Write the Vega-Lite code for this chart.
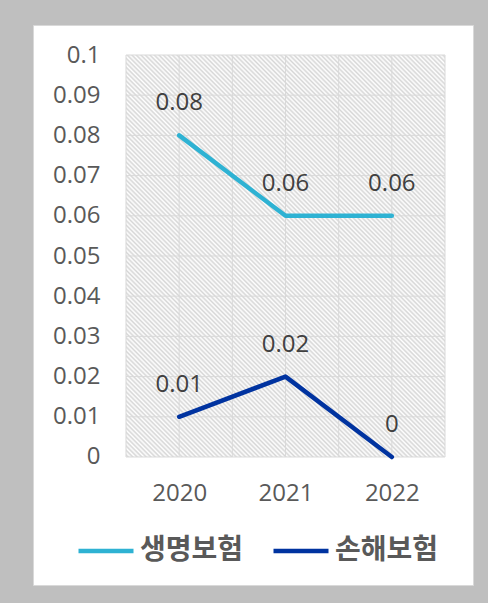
{
  "$schema": "https://vega.github.io/schema/vega-lite/v6.json",
  "width": 440,
  "height": 560,
  "autosize": "none",
  "padding": {"left": 33, "top": 25, "right": 15, "bottom": 18},
  "background": "#bfbfbf",
  "config": {
    "view": {"fill": "#ffffff", "stroke": "#d9d9d9", "strokeWidth": 1},
    "font": "Open Sans"
  },
  "datasets": {
    "series": [
      {"year": 2020, "type": "생명보험", "value": 0.08},
      {"year": 2021, "type": "생명보험", "value": 0.06},
      {"year": 2022, "type": "생명보험", "value": 0.06},
      {"year": 2020, "type": "손해보험", "value": 0.01},
      {"year": 2021, "type": "손해보험", "value": 0.02},
      {"year": 2022, "type": "손해보험", "value": 0}
    ],
    "plotarea": [{"x1": 2019.5, "x2": 2022.5, "y1": 0, "y2": 0.1}],
    "hgrid": [{"v": 0}, {"v": 0.01}, {"v": 0.02}, {"v": 0.03}, {"v": 0.04}, {"v": 0.05}, {"v": 0.06}, {"v": 0.07}, {"v": 0.08}, {"v": 0.09}, {"v": 0.1}],
    "vgrid": [{"v": 2019.5}, {"v": 2020}, {"v": 2020.5}, {"v": 2021}, {"v": 2021.5}, {"v": 2022}, {"v": 2022.5}]
  },
  "layer": [
    {
      "data": {"name": "plotarea"},
      "mark": {
        "type": "rect",
        "fill": {
          "gradient": "linear", "x1": 0, "y1": 1, "x2": 0.8733, "y2": -0.1005,
          "stops": [
{"offset":0,"color":"#fff"},{"offset":0.003125,"color":"#d6d6d6"},{"offset":0.00625,"color":"#fff"},{"offset":0.009375,"color":"#d6d6d6"},{"offset":0.0125,"color":"#fff"},{"offset":0.015625,"color":"#d6d6d6"},{"offset":0.01875,"color":"#fff"},{"offset":0.021875,"color":"#d6d6d6"},{"offset":0.025,"color":"#fff"},{"offset":0.028125,"color":"#d6d6d6"},{"offset":0.03125,"color":"#fff"},{"offset":0.034375,"color":"#d6d6d6"},{"offset":0.0375,"color":"#fff"},{"offset":0.040625,"color":"#d6d6d6"},{"offset":0.04375,"color":"#fff"},{"offset":0.046875,"color":"#d6d6d6"},
{"offset":0.05,"color":"#fff"},{"offset":0.053125,"color":"#d6d6d6"},{"offset":0.05625,"color":"#fff"},{"offset":0.059375,"color":"#d6d6d6"},{"offset":0.0625,"color":"#fff"},{"offset":0.065625,"color":"#d6d6d6"},{"offset":0.06875,"color":"#fff"},{"offset":0.071875,"color":"#d6d6d6"},{"offset":0.075,"color":"#fff"},{"offset":0.078125,"color":"#d6d6d6"},{"offset":0.08125,"color":"#fff"},{"offset":0.084375,"color":"#d6d6d6"},{"offset":0.0875,"color":"#fff"},{"offset":0.090625,"color":"#d6d6d6"},{"offset":0.09375,"color":"#fff"},{"offset":0.096875,"color":"#d6d6d6"},
{"offset":0.1,"color":"#fff"},{"offset":0.103125,"color":"#d6d6d6"},{"offset":0.10625,"color":"#fff"},{"offset":0.109375,"color":"#d6d6d6"},{"offset":0.1125,"color":"#fff"},{"offset":0.115625,"color":"#d6d6d6"},{"offset":0.11875,"color":"#fff"},{"offset":0.121875,"color":"#d6d6d6"},{"offset":0.125,"color":"#fff"},{"offset":0.128125,"color":"#d6d6d6"},{"offset":0.13125,"color":"#fff"},{"offset":0.134375,"color":"#d6d6d6"},{"offset":0.1375,"color":"#fff"},{"offset":0.140625,"color":"#d6d6d6"},{"offset":0.14375,"color":"#fff"},{"offset":0.146875,"color":"#d6d6d6"},
{"offset":0.15,"color":"#fff"},{"offset":0.153125,"color":"#d6d6d6"},{"offset":0.15625,"color":"#fff"},{"offset":0.159375,"color":"#d6d6d6"},{"offset":0.1625,"color":"#fff"},{"offset":0.165625,"color":"#d6d6d6"},{"offset":0.16875,"color":"#fff"},{"offset":0.171875,"color":"#d6d6d6"},{"offset":0.175,"color":"#fff"},{"offset":0.178125,"color":"#d6d6d6"},{"offset":0.18125,"color":"#fff"},{"offset":0.184375,"color":"#d6d6d6"},{"offset":0.1875,"color":"#fff"},{"offset":0.190625,"color":"#d6d6d6"},{"offset":0.19375,"color":"#fff"},{"offset":0.196875,"color":"#d6d6d6"},
{"offset":0.2,"color":"#fff"},{"offset":0.203125,"color":"#d6d6d6"},{"offset":0.20625,"color":"#fff"},{"offset":0.209375,"color":"#d6d6d6"},{"offset":0.2125,"color":"#fff"},{"offset":0.215625,"color":"#d6d6d6"},{"offset":0.21875,"color":"#fff"},{"offset":0.221875,"color":"#d6d6d6"},{"offset":0.225,"color":"#fff"},{"offset":0.228125,"color":"#d6d6d6"},{"offset":0.23125,"color":"#fff"},{"offset":0.234375,"color":"#d6d6d6"},{"offset":0.2375,"color":"#fff"},{"offset":0.240625,"color":"#d6d6d6"},{"offset":0.24375,"color":"#fff"},{"offset":0.246875,"color":"#d6d6d6"},
{"offset":0.25,"color":"#fff"},{"offset":0.253125,"color":"#d6d6d6"},{"offset":0.25625,"color":"#fff"},{"offset":0.259375,"color":"#d6d6d6"},{"offset":0.2625,"color":"#fff"},{"offset":0.265625,"color":"#d6d6d6"},{"offset":0.26875,"color":"#fff"},{"offset":0.271875,"color":"#d6d6d6"},{"offset":0.275,"color":"#fff"},{"offset":0.278125,"color":"#d6d6d6"},{"offset":0.28125,"color":"#fff"},{"offset":0.284375,"color":"#d6d6d6"},{"offset":0.2875,"color":"#fff"},{"offset":0.290625,"color":"#d6d6d6"},{"offset":0.29375,"color":"#fff"},{"offset":0.296875,"color":"#d6d6d6"},
{"offset":0.3,"color":"#fff"},{"offset":0.303125,"color":"#d6d6d6"},{"offset":0.30625,"color":"#fff"},{"offset":0.309375,"color":"#d6d6d6"},{"offset":0.3125,"color":"#fff"},{"offset":0.315625,"color":"#d6d6d6"},{"offset":0.31875,"color":"#fff"},{"offset":0.321875,"color":"#d6d6d6"},{"offset":0.325,"color":"#fff"},{"offset":0.328125,"color":"#d6d6d6"},{"offset":0.33125,"color":"#fff"},{"offset":0.334375,"color":"#d6d6d6"},{"offset":0.3375,"color":"#fff"},{"offset":0.340625,"color":"#d6d6d6"},{"offset":0.34375,"color":"#fff"},{"offset":0.346875,"color":"#d6d6d6"},
{"offset":0.35,"color":"#fff"},{"offset":0.353125,"color":"#d6d6d6"},{"offset":0.35625,"color":"#fff"},{"offset":0.359375,"color":"#d6d6d6"},{"offset":0.3625,"color":"#fff"},{"offset":0.365625,"color":"#d6d6d6"},{"offset":0.36875,"color":"#fff"},{"offset":0.371875,"color":"#d6d6d6"},{"offset":0.375,"color":"#fff"},{"offset":0.378125,"color":"#d6d6d6"},{"offset":0.38125,"color":"#fff"},{"offset":0.384375,"color":"#d6d6d6"},{"offset":0.3875,"color":"#fff"},{"offset":0.390625,"color":"#d6d6d6"},{"offset":0.39375,"color":"#fff"},{"offset":0.396875,"color":"#d6d6d6"},
{"offset":0.4,"color":"#fff"},{"offset":0.403125,"color":"#d6d6d6"},{"offset":0.40625,"color":"#fff"},{"offset":0.409375,"color":"#d6d6d6"},{"offset":0.4125,"color":"#fff"},{"offset":0.415625,"color":"#d6d6d6"},{"offset":0.41875,"color":"#fff"},{"offset":0.421875,"color":"#d6d6d6"},{"offset":0.425,"color":"#fff"},{"offset":0.428125,"color":"#d6d6d6"},{"offset":0.43125,"color":"#fff"},{"offset":0.434375,"color":"#d6d6d6"},{"offset":0.4375,"color":"#fff"},{"offset":0.440625,"color":"#d6d6d6"},{"offset":0.44375,"color":"#fff"},{"offset":0.446875,"color":"#d6d6d6"},
{"offset":0.45,"color":"#fff"},{"offset":0.453125,"color":"#d6d6d6"},{"offset":0.45625,"color":"#fff"},{"offset":0.459375,"color":"#d6d6d6"},{"offset":0.4625,"color":"#fff"},{"offset":0.465625,"color":"#d6d6d6"},{"offset":0.46875,"color":"#fff"},{"offset":0.471875,"color":"#d6d6d6"},{"offset":0.475,"color":"#fff"},{"offset":0.478125,"color":"#d6d6d6"},{"offset":0.48125,"color":"#fff"},{"offset":0.484375,"color":"#d6d6d6"},{"offset":0.4875,"color":"#fff"},{"offset":0.490625,"color":"#d6d6d6"},{"offset":0.49375,"color":"#fff"},{"offset":0.496875,"color":"#d6d6d6"},
{"offset":0.5,"color":"#fff"},{"offset":0.503125,"color":"#d6d6d6"},{"offset":0.50625,"color":"#fff"},{"offset":0.509375,"color":"#d6d6d6"},{"offset":0.5125,"color":"#fff"},{"offset":0.515625,"color":"#d6d6d6"},{"offset":0.51875,"color":"#fff"},{"offset":0.521875,"color":"#d6d6d6"},{"offset":0.525,"color":"#fff"},{"offset":0.528125,"color":"#d6d6d6"},{"offset":0.53125,"color":"#fff"},{"offset":0.534375,"color":"#d6d6d6"},{"offset":0.5375,"color":"#fff"},{"offset":0.540625,"color":"#d6d6d6"},{"offset":0.54375,"color":"#fff"},{"offset":0.546875,"color":"#d6d6d6"},
{"offset":0.55,"color":"#fff"},{"offset":0.553125,"color":"#d6d6d6"},{"offset":0.55625,"color":"#fff"},{"offset":0.559375,"color":"#d6d6d6"},{"offset":0.5625,"color":"#fff"},{"offset":0.565625,"color":"#d6d6d6"},{"offset":0.56875,"color":"#fff"},{"offset":0.571875,"color":"#d6d6d6"},{"offset":0.575,"color":"#fff"},{"offset":0.578125,"color":"#d6d6d6"},{"offset":0.58125,"color":"#fff"},{"offset":0.584375,"color":"#d6d6d6"},{"offset":0.5875,"color":"#fff"},{"offset":0.590625,"color":"#d6d6d6"},{"offset":0.59375,"color":"#fff"},{"offset":0.596875,"color":"#d6d6d6"},
{"offset":0.6,"color":"#fff"},{"offset":0.603125,"color":"#d6d6d6"},{"offset":0.60625,"color":"#fff"},{"offset":0.609375,"color":"#d6d6d6"},{"offset":0.6125,"color":"#fff"},{"offset":0.615625,"color":"#d6d6d6"},{"offset":0.61875,"color":"#fff"},{"offset":0.621875,"color":"#d6d6d6"},{"offset":0.625,"color":"#fff"},{"offset":0.628125,"color":"#d6d6d6"},{"offset":0.63125,"color":"#fff"},{"offset":0.634375,"color":"#d6d6d6"},{"offset":0.6375,"color":"#fff"},{"offset":0.640625,"color":"#d6d6d6"},{"offset":0.64375,"color":"#fff"},{"offset":0.646875,"color":"#d6d6d6"},
{"offset":0.65,"color":"#fff"},{"offset":0.653125,"color":"#d6d6d6"},{"offset":0.65625,"color":"#fff"},{"offset":0.659375,"color":"#d6d6d6"},{"offset":0.6625,"color":"#fff"},{"offset":0.665625,"color":"#d6d6d6"},{"offset":0.66875,"color":"#fff"},{"offset":0.671875,"color":"#d6d6d6"},{"offset":0.675,"color":"#fff"},{"offset":0.678125,"color":"#d6d6d6"},{"offset":0.68125,"color":"#fff"},{"offset":0.684375,"color":"#d6d6d6"},{"offset":0.6875,"color":"#fff"},{"offset":0.690625,"color":"#d6d6d6"},{"offset":0.69375,"color":"#fff"},{"offset":0.696875,"color":"#d6d6d6"},
{"offset":0.7,"color":"#fff"},{"offset":0.703125,"color":"#d6d6d6"},{"offset":0.70625,"color":"#fff"},{"offset":0.709375,"color":"#d6d6d6"},{"offset":0.7125,"color":"#fff"},{"offset":0.715625,"color":"#d6d6d6"},{"offset":0.71875,"color":"#fff"},{"offset":0.721875,"color":"#d6d6d6"},{"offset":0.725,"color":"#fff"},{"offset":0.728125,"color":"#d6d6d6"},{"offset":0.73125,"color":"#fff"},{"offset":0.734375,"color":"#d6d6d6"},{"offset":0.7375,"color":"#fff"},{"offset":0.740625,"color":"#d6d6d6"},{"offset":0.74375,"color":"#fff"},{"offset":0.746875,"color":"#d6d6d6"},
{"offset":0.75,"color":"#fff"},{"offset":0.753125,"color":"#d6d6d6"},{"offset":0.75625,"color":"#fff"},{"offset":0.759375,"color":"#d6d6d6"},{"offset":0.7625,"color":"#fff"},{"offset":0.765625,"color":"#d6d6d6"},{"offset":0.76875,"color":"#fff"},{"offset":0.771875,"color":"#d6d6d6"},{"offset":0.775,"color":"#fff"},{"offset":0.778125,"color":"#d6d6d6"},{"offset":0.78125,"color":"#fff"},{"offset":0.784375,"color":"#d6d6d6"},{"offset":0.7875,"color":"#fff"},{"offset":0.790625,"color":"#d6d6d6"},{"offset":0.79375,"color":"#fff"},{"offset":0.796875,"color":"#d6d6d6"},
{"offset":0.8,"color":"#fff"},{"offset":0.803125,"color":"#d6d6d6"},{"offset":0.80625,"color":"#fff"},{"offset":0.809375,"color":"#d6d6d6"},{"offset":0.8125,"color":"#fff"},{"offset":0.815625,"color":"#d6d6d6"},{"offset":0.81875,"color":"#fff"},{"offset":0.821875,"color":"#d6d6d6"},{"offset":0.825,"color":"#fff"},{"offset":0.828125,"color":"#d6d6d6"},{"offset":0.83125,"color":"#fff"},{"offset":0.834375,"color":"#d6d6d6"},{"offset":0.8375,"color":"#fff"},{"offset":0.840625,"color":"#d6d6d6"},{"offset":0.84375,"color":"#fff"},{"offset":0.846875,"color":"#d6d6d6"},
{"offset":0.85,"color":"#fff"},{"offset":0.853125,"color":"#d6d6d6"},{"offset":0.85625,"color":"#fff"},{"offset":0.859375,"color":"#d6d6d6"},{"offset":0.8625,"color":"#fff"},{"offset":0.865625,"color":"#d6d6d6"},{"offset":0.86875,"color":"#fff"},{"offset":0.871875,"color":"#d6d6d6"},{"offset":0.875,"color":"#fff"},{"offset":0.878125,"color":"#d6d6d6"},{"offset":0.88125,"color":"#fff"},{"offset":0.884375,"color":"#d6d6d6"},{"offset":0.8875,"color":"#fff"},{"offset":0.890625,"color":"#d6d6d6"},{"offset":0.89375,"color":"#fff"},{"offset":0.896875,"color":"#d6d6d6"},
{"offset":0.9,"color":"#fff"},{"offset":0.903125,"color":"#d6d6d6"},{"offset":0.90625,"color":"#fff"},{"offset":0.909375,"color":"#d6d6d6"},{"offset":0.9125,"color":"#fff"},{"offset":0.915625,"color":"#d6d6d6"},{"offset":0.91875,"color":"#fff"},{"offset":0.921875,"color":"#d6d6d6"},{"offset":0.925,"color":"#fff"},{"offset":0.928125,"color":"#d6d6d6"},{"offset":0.93125,"color":"#fff"},{"offset":0.934375,"color":"#d6d6d6"},{"offset":0.9375,"color":"#fff"},{"offset":0.940625,"color":"#d6d6d6"},{"offset":0.94375,"color":"#fff"},{"offset":0.946875,"color":"#d6d6d6"},
{"offset":0.95,"color":"#fff"},{"offset":0.953125,"color":"#d6d6d6"},{"offset":0.95625,"color":"#fff"},{"offset":0.959375,"color":"#d6d6d6"},{"offset":0.9625,"color":"#fff"},{"offset":0.965625,"color":"#d6d6d6"},{"offset":0.96875,"color":"#fff"},{"offset":0.971875,"color":"#d6d6d6"},{"offset":0.975,"color":"#fff"},{"offset":0.978125,"color":"#d6d6d6"},{"offset":0.98125,"color":"#fff"},{"offset":0.984375,"color":"#d6d6d6"},{"offset":0.9875,"color":"#fff"},{"offset":0.990625,"color":"#d6d6d6"},{"offset":0.99375,"color":"#fff"},{"offset":0.996875,"color":"#d6d6d6"},
{"offset":1,"color":"#fff"}
          ]
        }
      },
      "encoding": {
        "x": {
          "field": "x1", "type": "quantitative",
          "scale": {"domain": [2018.6254, 2022.7633], "nice": false, "zero": false},
          "axis": {
            "orient": "bottom", "offset": -128, "values": [2020, 2021, 2022], "format": "d",
            "grid": false, "ticks": false, "domain": false, "title": null,
            "labelFont": "Open Sans", "labelFontSize": 24, "labelColor": "#595959",
            "labelPadding": 24, "labelFlush": false
          }
        },
        "x2": {"field": "x2"},
        "y": {
          "field": "y1", "type": "quantitative",
          "scale": {"domain": [-0.031841, 0.107463], "nice": false, "zero": false},
          "axis": {
            "orient": "left", "offset": -93,
            "values": [0, 0.01, 0.02, 0.03, 0.04, 0.05, 0.06, 0.07, 0.08, 0.09, 0.1],
            "format": "~g", "grid": false, "ticks": false, "domain": false, "title": null,
            "labelFont": "Open Sans", "labelFontSize": 24, "labelColor": "#595959",
            "labelPadding": 26
          }
        },
        "y2": {"field": "y2"}
      }
    },
    {
      "data": {"name": "hgrid"},
      "mark": {"type": "rule", "color": "#d9d9d9", "strokeWidth": 1},
      "encoding": {
        "y": {
          "field": "v", "type": "quantitative",
          "scale": {"domain": [-0.031841, 0.107463], "nice": false, "zero": false},
          "axis": {
            "orient": "left", "offset": -93,
            "values": [0, 0.01, 0.02, 0.03, 0.04, 0.05, 0.06, 0.07, 0.08, 0.09, 0.1],
            "format": "~g", "grid": false, "ticks": false, "domain": false, "title": null,
            "labelFont": "Open Sans", "labelFontSize": 24, "labelColor": "#595959",
            "labelPadding": 26
          }
        },
        "x": {
          "datum": 2019.5, "type": "quantitative",
          "scale": {"domain": [2018.6254, 2022.7633], "nice": false, "zero": false},
          "axis": {
            "orient": "bottom", "offset": -128, "values": [2020, 2021, 2022], "format": "d",
            "grid": false, "ticks": false, "domain": false, "title": null,
            "labelFont": "Open Sans", "labelFontSize": 24, "labelColor": "#595959",
            "labelPadding": 24, "labelFlush": false
          }
        },
        "x2": {"datum": 2022.5}
      }
    },
    {
      "data": {"name": "vgrid"},
      "mark": {"type": "rule", "color": "#d9d9d9", "strokeWidth": 1},
      "encoding": {
        "x": {
          "field": "v", "type": "quantitative",
          "scale": {"domain": [2018.6254, 2022.7633], "nice": false, "zero": false},
          "axis": {
            "orient": "bottom", "offset": -128, "values": [2020, 2021, 2022], "format": "d",
            "grid": false, "ticks": false, "domain": false, "title": null,
            "labelFont": "Open Sans", "labelFontSize": 24, "labelColor": "#595959",
            "labelPadding": 24, "labelFlush": false
          }
        },
        "y": {
          "datum": 0, "type": "quantitative",
          "scale": {"domain": [-0.031841, 0.107463], "nice": false, "zero": false},
          "axis": {
            "orient": "left", "offset": -93,
            "values": [0, 0.01, 0.02, 0.03, 0.04, 0.05, 0.06, 0.07, 0.08, 0.09, 0.1],
            "format": "~g", "grid": false, "ticks": false, "domain": false, "title": null,
            "labelFont": "Open Sans", "labelFontSize": 24, "labelColor": "#595959",
            "labelPadding": 26
          }
        },
        "y2": {"datum": 0.1}
      }
    },
    {
      "data": {"name": "series"},
      "mark": {"type": "line", "strokeWidth": 4.5, "strokeCap": "round", "strokeJoin": "round"},
      "encoding": {
        "x": {
          "field": "year", "type": "quantitative",
          "scale": {"domain": [2018.6254, 2022.7633], "nice": false, "zero": false},
          "axis": {
            "orient": "bottom", "offset": -128, "values": [2020, 2021, 2022], "format": "d",
            "grid": false, "ticks": false, "domain": false, "title": null,
            "labelFont": "Open Sans", "labelFontSize": 24, "labelColor": "#595959",
            "labelPadding": 24, "labelFlush": false
          }
        },
        "y": {
          "field": "value", "type": "quantitative",
          "scale": {"domain": [-0.031841, 0.107463], "nice": false, "zero": false},
          "axis": {
            "orient": "left", "offset": -93,
            "values": [0, 0.01, 0.02, 0.03, 0.04, 0.05, 0.06, 0.07, 0.08, 0.09, 0.1],
            "format": "~g", "grid": false, "ticks": false, "domain": false, "title": null,
            "labelFont": "Open Sans", "labelFontSize": 24, "labelColor": "#595959",
            "labelPadding": 26
          }
        },
        "color": {
          "field": "type", "type": "nominal",
          "scale": {"domain": ["생명보험", "손해보험"], "range": ["#2eb2d3", "#0033a0"]},
          "legend": {
            "orient": "none", "legendX": 43, "legendY": 496, "direction": "horizontal",
            "title": null, "symbolType": "stroke", "symbolSize": 3025, "symbolStrokeWidth": 4.5,
            "labelFont": "Noto Sans CJK KR", "labelFontSize": 28, "labelFontWeight": "bold",
            "labelColor": "#595959", "labelOffset": 4, "columnPadding": 20, "padding": 0,
            "labelLimit": 300
          }
        }
      }
    },
    {
      "data": {"name": "series"},
      "mark": {"type": "text", "dy": -25, "baseline": "alphabetic", "align": "center", "fontSize": 24, "font": "Open Sans", "color": "#404040"},
      "encoding": {
        "x": {
          "field": "year", "type": "quantitative",
          "scale": {"domain": [2018.6254, 2022.7633], "nice": false, "zero": false},
          "axis": {
            "orient": "bottom", "offset": -128, "values": [2020, 2021, 2022], "format": "d",
            "grid": false, "ticks": false, "domain": false, "title": null,
            "labelFont": "Open Sans", "labelFontSize": 24, "labelColor": "#595959",
            "labelPadding": 24, "labelFlush": false
          }
        },
        "y": {
          "field": "value", "type": "quantitative",
          "scale": {"domain": [-0.031841, 0.107463], "nice": false, "zero": false},
          "axis": {
            "orient": "left", "offset": -93,
            "values": [0, 0.01, 0.02, 0.03, 0.04, 0.05, 0.06, 0.07, 0.08, 0.09, 0.1],
            "format": "~g", "grid": false, "ticks": false, "domain": false, "title": null,
            "labelFont": "Open Sans", "labelFontSize": 24, "labelColor": "#595959",
            "labelPadding": 26
          }
        },
        "text": {"field": "value", "type": "quantitative", "format": "~g"}
      }
    }
  ]
}
